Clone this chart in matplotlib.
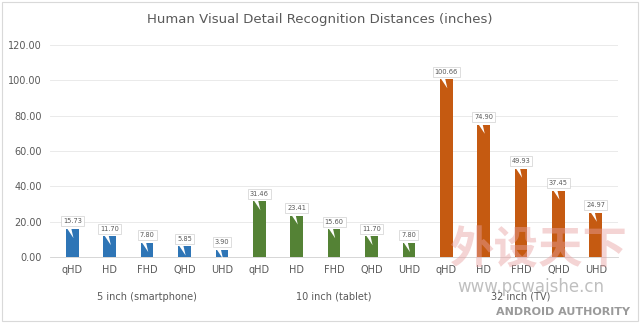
import matplotlib.pyplot as plt
import matplotlib.transforms as mtransforms
from matplotlib.patches import Polygon

resolutions = ["qHD", "HD", "FHD", "QHD", "UHD"]
groups = ["5 inch (smartphone)", "10 inch (tablet)", "32 inch (TV)"]
phone = [15.73, 11.70, 7.80, 5.85, 3.90]
tablet = [31.46, 23.41, 15.60, 11.70, 7.80]
tv = [100.66, 74.90, 49.93, 37.45, 24.97]
colors = ["#2E75B6", "#548235", "#C55A11"]
yticks = [0, 20, 40, 60, 80, 100, 120]

fig = plt.figure(figsize=(6.4, 3.23), dpi=100)
ax = fig.add_axes([0.078, 0.205, 0.888, 0.655])

series = [phone, tablet, tv]
labels = []
for g, vals in enumerate(series):
    for i, v in enumerate(vals):
        x = g * len(resolutions) + i
        labels.append(resolutions[i])
        ax.bar(x, v, width=0.34, color=colors[g], zorder=2)
        # white callout pointer cutting into the bar top
        pts = [(-4.5 / 72, 1.5 / 72), (-1.0 / 72, 1.5 / 72), (0.8 / 72, -6.5 / 72)]
        tr = fig.dpi_scale_trans + mtransforms.ScaledTranslation(x, v, ax.transData)
        ax.add_patch(Polygon(pts, closed=True, transform=tr, facecolor="white",
                             edgecolor="none", zorder=3, clip_on=False))
        ax.annotate(f"{v:.2f}", xy=(x, v), xytext=(0, 5.5), textcoords="offset points",
                    ha="center", va="center", fontsize=4.8, color="#595959", zorder=4,
                    bbox=dict(boxstyle="square,pad=0.3", fc="white", ec="#D0D0D0", lw=0.5))

n = len(labels)
ax.set_xlim(-0.6, n - 0.4)
ax.set_ylim(0, 120)
ax.set_yticks(yticks)
ax.set_yticklabels([f"{t:.2f}" for t in yticks])
ax.set_xticks(range(n))
ax.set_xticklabels(labels)
ax.tick_params(axis="both", length=0, labelsize=7, colors="#595959")
ax.tick_params(axis="x", pad=6)
ax.tick_params(axis="y", pad=6)
ax.grid(axis="y", color="#E6E6E6", lw=0.6, zorder=0)
for s in ["top", "right", "left"]:
    ax.spines[s].set_visible(False)
ax.spines["bottom"].set_color("#D0D0D0")
ax.spines["bottom"].set_linewidth(0.6)

for g, name in enumerate(groups):
    xc = g * len(resolutions) + (len(resolutions) - 1) / 2
    ax.text(xc, -0.19, name, transform=ax.get_xaxis_transform(), ha="center",
            va="center", fontsize=7, color="#595959", zorder=6)

fig.text(0.5, 0.94, "Human Visual Detail Recognition Distances (inches)",
         ha="center", va="center", fontsize=9.5, color="#595959")

# watermarks
fig.text(0.84, 0.225, "外设天下", family=["Noto Sans CJK SC", "DejaVu Sans"],
         ha="center", va="center", fontsize=32, fontweight="bold",
         color="#E8A0A0", alpha=0.45, zorder=5)
fig.text(0.83, 0.11, "www.pcwaishe.cn", ha="center", va="center",
         fontsize=12, color="#B0B0B0", alpha=0.8, zorder=5)
fig.text(0.985, 0.035, "ANDROID AUTHORITY", ha="right", va="center",
         fontsize=8, color="#9A9A9A", fontweight="bold")

fig.patches.append(plt.Rectangle((0.003, 0.006), 0.994, 0.988, transform=fig.transFigure,
                                 fill=False, ec="#D9D9D9", lw=0.8))

fig.savefig("out.png", dpi=100)
